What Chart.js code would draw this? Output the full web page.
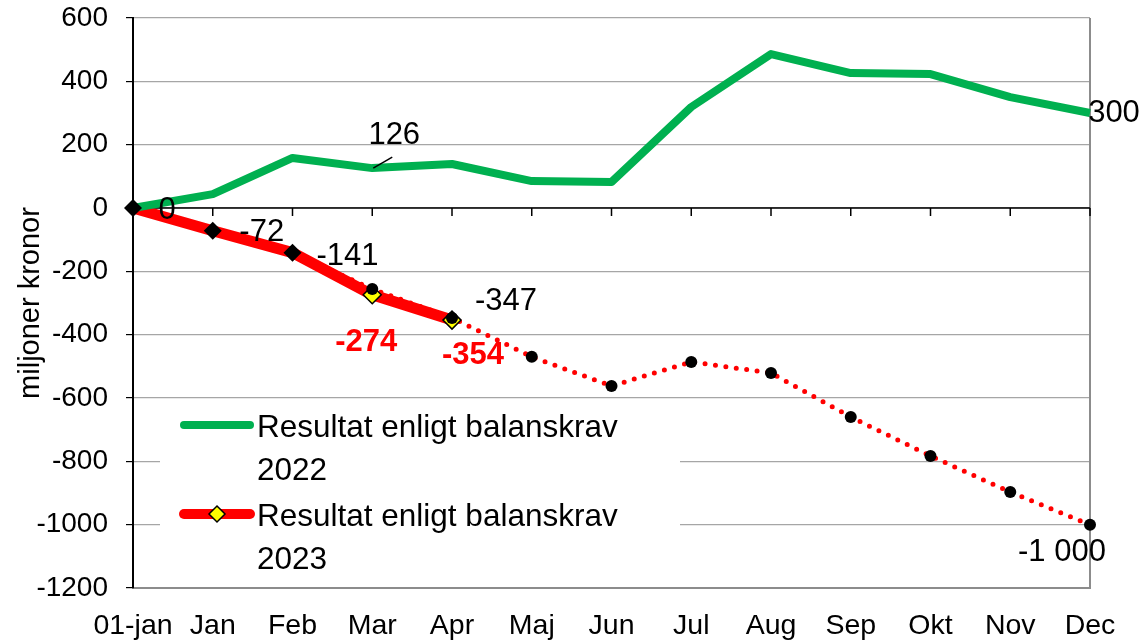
<!DOCTYPE html>
<html>
<head>
<meta charset="utf-8">
<script src="https://cdn.jsdelivr.net/npm/chart.js@4.4.1/dist/chart.umd.min.js"></script>
<style>
  html, body { margin: 0; padding: 0; background: #fff; }
</style>
</head>
<body>
<canvas id="chart" width="1140" height="643"></canvas>
<script>
const months = ["01-jan", "Jan", "Feb", "Mar", "Apr", "Maj", "Jun", "Jul", "Aug", "Sep", "Okt", "Nov", "Dec"];
const result2022 = [0, 44, 158, 126, 139, 85, 82, 319, 486, 426, 423, 350, 300];
const result2023 = [0, -72, -141, -274, -354, null, null, null, null, null, null, null, null];
const forecast2023 = [0, -72, -141, -256, -347, -470, -562, -486, -521, -660, -783, -897, -1000];
const yTicks = { min: -1200, max: 600, step: 200 };
const legendTexts = [["Resultat enligt balanskrav", "2022"], ["Resultat enligt balanskrav", "2023"]];

const FONT = "'Liberation Sans', Arial, sans-serif";
const GREEN = "#00b050";
const RED = "#ff0000";

// labels next to points: dataset key, index, text, offset, style
const pointLabels = [
  { set: "f", i: 0, text: "0", dx: 34, dy: 2 },
  { set: "f", i: 1, text: "-72", dx: 49, dy: 2 },
  { set: "f", i: 2, text: "-141", dx: 55, dy: 4 },
  { set: "f", i: 4, text: "-347", dx: 54, dy: -16 },
  { set: "a", i: 3, text: "-274", dx: -6, dy: 48, red: true },
  { set: "a", i: 4, text: "-354", dx: 21, dy: 35, red: true },
  { set: "g", i: 3, text: "126", dx: 22, dy: -33, leader: true },
  { set: "g", i: 12, text: "300", dx: 24, dy: 0 },
  { set: "f", i: 12, text: "-1 000", dx: -28, dy: 28 }
];

const seriesByKey = { g: result2022, a: result2023, f: forecast2023 };

// zero line with ticks, right border
const framePlugin = {
  id: "frame",
  beforeDatasetsDraw(chart) {
    const { ctx, chartArea, scales } = chart;
    const y0 = scales.y.getPixelForValue(0);
    ctx.save();
    ctx.strokeStyle = "#8c8c8c";
    ctx.lineWidth = 2;
    ctx.beginPath();
    ctx.moveTo(chartArea.right, chartArea.top);
    ctx.lineTo(chartArea.right, chartArea.bottom);
    ctx.stroke();
    ctx.strokeStyle = "#000";
    ctx.lineWidth = 1.5;
    ctx.beginPath();
    ctx.moveTo(chartArea.left, y0);
    ctx.lineTo(chartArea.right, y0);
    for (let i = 0; i < months.length; i++) {
      const x = scales.x.getPixelForTick(i);
      ctx.moveTo(x, y0);
      ctx.lineTo(x, y0 + 8);
    }
    ctx.stroke();
    ctx.restore();
  }
};

const labelPlugin = {
  id: "labels",
  afterDatasetsDraw(chart) {
    const { ctx, scales, chartArea } = chart;
    ctx.save();
    ctx.textAlign = "center";
    ctx.textBaseline = "middle";
    pointLabels.forEach((l) => {
      const v = seriesByKey[l.set][l.i];
      const px = scales.x.getPixelForTick(l.i);
      const py = scales.y.getPixelForValue(v);
      ctx.font = (l.red ? "bold " : "") + "31px " + FONT;
      ctx.fillStyle = l.red ? RED : "#000";
      ctx.fillText(l.text, px + l.dx, py + l.dy);
      if (l.leader) {
        ctx.strokeStyle = "#000";
        ctx.lineWidth = 1.5;
        ctx.beginPath();
        ctx.moveTo(px + 1, py);
        ctx.lineTo(px + 20, py - 11);
        ctx.stroke();
      }
    });

    // legend box
    const bx = chartArea.left + 27, by = 405, bw = 520, bh = 172;
    ctx.fillStyle = "#fff";
    ctx.fillRect(bx, by, bw, bh);
    const rows = [
      { color: GREEN, width: 8, marker: false, y: 425 },
      { color: RED, width: 10, marker: true, y: 514 }
    ];
    rows.forEach((r, k) => {
      ctx.strokeStyle = r.color;
      ctx.lineWidth = r.width;
      ctx.lineCap = "round";
      ctx.beginPath();
      ctx.moveTo(184, r.y);
      ctx.lineTo(250, r.y);
      ctx.stroke();
      if (r.marker) {
        ctx.fillStyle = "#ffff00";
        ctx.strokeStyle = "#000";
        ctx.lineWidth = 1.5;
        ctx.beginPath();
        ctx.moveTo(217, r.y - 8);
        ctx.lineTo(225, r.y);
        ctx.lineTo(217, r.y + 8);
        ctx.lineTo(209, r.y);
        ctx.closePath();
        ctx.fill();
        ctx.stroke();
      }
      ctx.fillStyle = "#000";
      ctx.font = "31.5px " + FONT;
      ctx.textAlign = "left";
      ctx.fillText(legendTexts[k][0], 257, r.y + 3);
      ctx.fillText(legendTexts[k][1], 257, r.y + 46);
    });
    ctx.restore();
  }
};

new Chart(document.getElementById("chart"), {
  type: "line",
  data: {
    labels: months,
    datasets: [
      {
        label: "Prognos 2023",
        data: forecast2023,
        borderColor: RED,
        borderWidth: 5,
        borderDash: [0, 10.5],
        borderCapStyle: "round",
        pointRadius: 0,
        order: 3
      },
      {
        label: "Resultat enligt balanskrav 2023",
        data: result2023,
        borderColor: RED,
        borderWidth: 11,
        borderJoinStyle: "round",
        pointStyle: "rectRot",
        pointRadius: [0, 0, 0, 9, 9, 0, 0, 0, 0, 0, 0, 0, 0],
        pointBackgroundColor: "#ffff00",
        pointBorderColor: "#000",
        pointBorderWidth: 1.5,
        spanGaps: false,
        order: 2
      },
      {
        label: "Resultat enligt balanskrav 2022",
        data: result2022,
        borderColor: GREEN,
        borderWidth: 8,
        borderJoinStyle: "round",
        pointRadius: 0,
        order: 1
      },
      {
        label: "markers",
        data: forecast2023,
        showLine: false,
        pointStyle: forecast2023.map((v, i) => (i < 3 ? "rectRot" : "circle")),
        pointRadius: forecast2023.map((v, i) => (i < 3 ? 9 : 6)),
        pointBackgroundColor: "#000",
        pointBorderColor: "#000",
        pointBorderWidth: 0,
        order: 0
      }
    ]
  },
  options: {
    responsive: false,
    animation: false,
    devicePixelRatio: 1,
    layout: { padding: { top: 18, right: 50, left: 0, bottom: 0 } },
    plugins: {
      legend: { display: false },
      tooltip: { enabled: false }
    },
    scales: {
      x: {
        offset: false,
        grid: { display: false, drawTicks: false },
        border: { display: true, color: "#8c8c8c", width: 2 },
        ticks: {
          color: "#000",
          font: { family: FONT, size: 28.5 },
          padding: 21,
          maxRotation: 0,
          autoSkip: false
        },
        afterFit(scale) { scale.height = 55; }
      },
      y: {
        min: yTicks.min,
        max: yTicks.max,
        grid: {
          color: "#a6a6a6",
          lineWidth: 1.2,
          tickLength: 7,
          tickColor: "#000"
        },
        border: { display: true, color: "#000", width: 2 },
        ticks: {
          stepSize: yTicks.step,
          color: "#000",
          font: { family: FONT, size: 28 },
          padding: 18,
          callback: (v) => String(v)
        },
        title: {
          display: true,
          text: "miljoner kronor",
          color: "#000",
          font: { family: FONT, size: 29 },
          padding: 14
        },
        afterFit(scale) {
          scale.width = 133;
          scale.paddingTop = 0;
          scale.paddingBottom = 0;
        }
      }
    }
  },
  plugins: [framePlugin, labelPlugin]
});
</script>
</body>
</html>
